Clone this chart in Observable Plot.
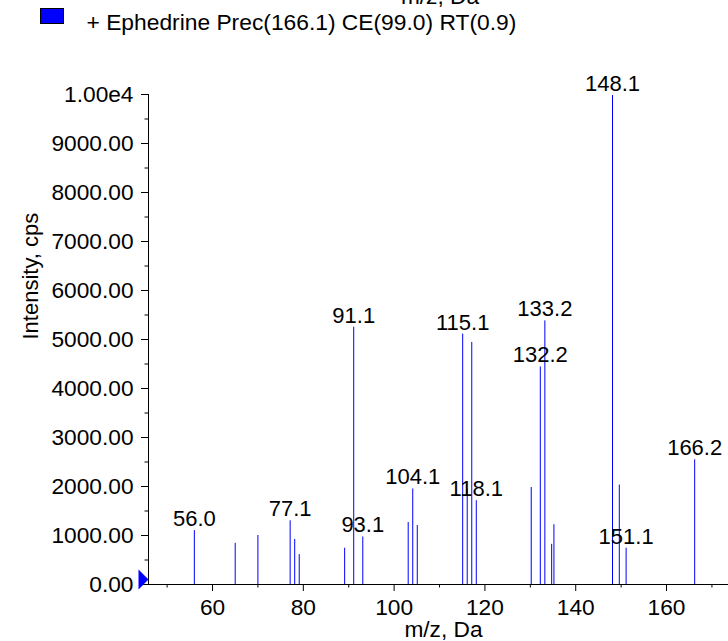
<!DOCTYPE html>
<html>
<head>
<meta charset="utf-8">
<script src="https://cdn.jsdelivr.net/npm/d3@7"></script>
<script src="https://cdn.jsdelivr.net/npm/@observablehq/plot@0.6"></script>
<style>
html, body { margin: 0; padding: 0; background: #fff; }
body { width: 728px; height: 641px; overflow: hidden; font-family: Arial, "Liberation Sans", sans-serif; color: #000; }
#header { position: relative; width: 728px; height: 50px; overflow: hidden; }
#toplabel { position: absolute; left: 0; width: 880px; top: -15.5px; text-align: center; font-size: 22.7px; line-height: 22px; white-space: nowrap; }
#swatch { position: absolute; left: 40px; top: 8px; width: 24px; height: 16px; box-sizing: border-box; background: #0000ff; border: 1px solid #000; }
#legtext { position: absolute; left: 86.5px; top: 10.5px; font-size: 22.8px; line-height: 22px; white-space: nowrap; }
#chart svg { display: block; }
</style>
</head>
<body>
<div id="header">
  <div id="toplabel"></div>
  <div id="swatch"></div>
  <div id="legtext"></div>
</div>
<div id="chart"></div>
<script>
// ---- data ----
const seriesName = "+ Ephedrine Prec(166.1) CE(99.0) RT(0.9)";
const xLabel = "m/z, Da";
const yLabel = "Intensity, cps";

const mz =        [56.0, 65.0, 70.0, 77.1, 78.1, 79.1, 89.1, 91.1, 93.1, 103.1, 104.1, 105.1, 115.1, 116.1, 117.1, 118.1, 130.2, 132.2, 133.2, 134.7, 135.2, 148.1, 149.6, 151.1, 166.2];
const intensity = [1100, 840,  1000, 1300, 920,  610,  740,  5250, 970,  1265,  1950,  1205,  5110,  1950,  4940,  1710,  1980,  4440,  5380,  820,   1220,  9980,  2030,  740,   2545];

const labeledMz = [56.0, 77.1, 91.1, 93.1, 104.1, 115.1, 118.1, 132.2, 133.2, 148.1, 151.1, 166.2];

const xDomain = [45.9, 173.65];
const yDomain = [0, 10000];
const xMajorTicks = [60, 80, 100, 120, 140, 160];
const xMinorTicks = [50, 70, 90, 110, 130, 150, 170];
const yMajorTicks = [0, 1000, 2000, 3000, 4000, 5000, 6000, 7000, 8000, 9000, 10000];
const yMinorTicks = [500, 1500, 2500, 3500, 4500, 5500, 6500, 7500, 8500, 9500];

// ---- build ----
document.getElementById("toplabel").textContent = xLabel;
document.getElementById("legtext").textContent = seriesName;

const peaks = mz.map((m, i) => ({mz: m, intensity: intensity[i]}));
const labeled = peaks.filter(p => labeledMz.includes(p.mz));
const origin = [{x: xDomain[0], y: yDomain[0]}];

const yFormat = d => d === 10000 ? "1.00e4" : d.toFixed(2);

const triSymbol = {
  draw(ctx) {
    ctx.moveTo(-10, -15);
    ctx.lineTo(0, -5);
    ctx.lineTo(-10, 5);
    ctx.closePath();
  }
};

const FONT = 'Arial, "Liberation Sans", sans-serif';

const chart = Plot.plot({
  width: 728,
  height: 591,
  marginLeft: 148,
  marginRight: 0,
  marginTop: 44,
  marginBottom: 57,
  style: {fontFamily: FONT, fontSize: "22px", background: "#fff", color: "#000", overflow: "visible"},
  x: {domain: xDomain, axis: null},
  y: {domain: yDomain, axis: null},
  marks: [
    Plot.axisY(yMajorTicks, {anchor: "left", tickSize: 7, tickPadding: 8, tickFormat: yFormat, fontSize: 22.7, label: null, stroke: "#000"}),
    Plot.axisY(yMinorTicks, {anchor: "left", tickSize: 3.5, tickFormat: () => "", label: null, stroke: "#000"}),
    Plot.axisX(xMajorTicks, {anchor: "bottom", tickSize: 7, tickPadding: 7, tickFormat: d => String(d), fontSize: 22.7, label: null, stroke: "#000"}),
    Plot.axisX(xMinorTicks, {anchor: "bottom", tickSize: 3.5, tickFormat: () => "", label: null, stroke: "#000"}),
    Plot.ruleX(peaks, {x: "mz", y1: 0, y2: "intensity", stroke: "#0000ff", strokeWidth: 1}),
    Plot.ruleY([yDomain[0]], {stroke: "#000"}),
    Plot.ruleX([xDomain[0]], {y1: yDomain[0], y2: yDomain[1], stroke: "#000"}),
    Plot.text(labeled, {x: "mz", y: "intensity", text: d => d.mz.toFixed(1), lineAnchor: "bottom", dy: -4.5, fontSize: 22, fill: "#000"}),
    Plot.dot(origin, {x: "x", y: "y", symbol: triSymbol, fill: "#0000ff", stroke: "none", r: 5}),
    Plot.text([yLabel], {text: d => d, frameAnchor: "left", rotate: -90, dx: -118, lineAnchor: "middle", fontSize: 22, fill: "#000"}),
    Plot.text([xLabel], {text: d => d, frameAnchor: "bottom", dx: 5, dy: 52, lineAnchor: "bottom", fontSize: 22.7, fill: "#000"})
  ]
});
document.getElementById("chart").appendChild(chart);
</script>
</body>
</html>
